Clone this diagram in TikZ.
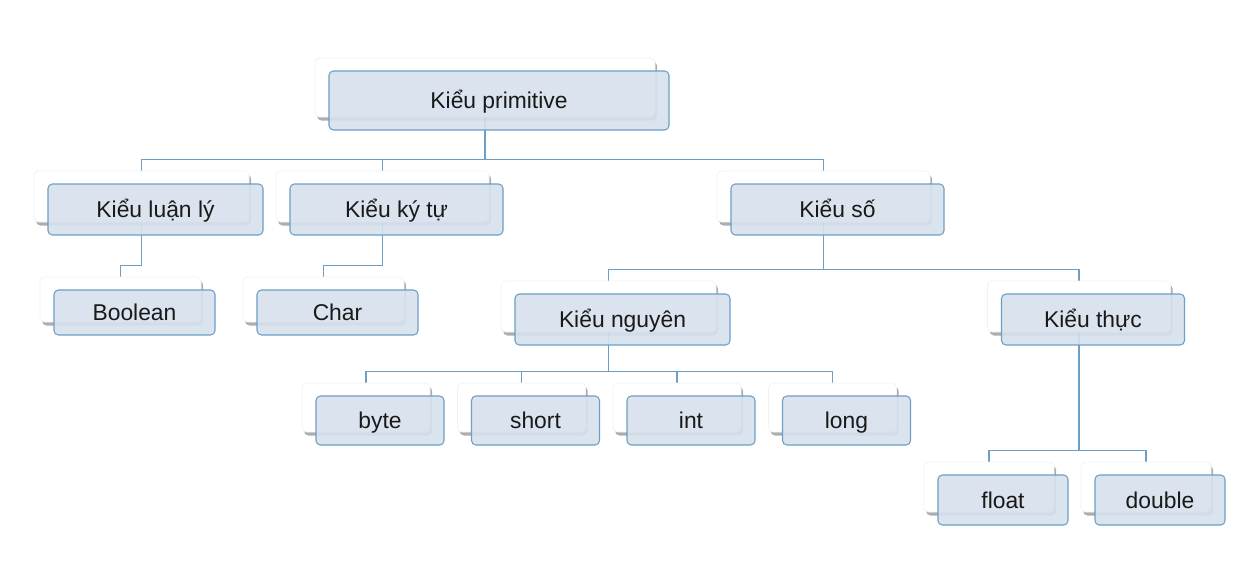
\documentclass[tikz,border=0pt]{standalone}
\usepackage{fontspec}
\setmainfont{Liberation Sans}
\usepackage{pgf,tikz}
\usetikzlibrary{shapes, positioning, shadows}
\pgfdeclarelayer{background}
\pgfsetlayers{background,main}
\definecolor{vien}{RGB}{108,158,198}
\definecolor{nenxanh}{RGB}{214,225,237}
\tikzstyle{hopnen} = [fill=white, draw=gray!10, rectangle, rounded corners=2.5pt, inner sep=0pt, drop shadow={shadow xshift=1.2pt, shadow yshift=-2pt, fill=black, opacity=0.32}]
\tikzstyle{hopkieu} = [fill=nenxanh, fill opacity=0.9, text opacity=1, draw=vien, line width=0.6pt, rectangle, rounded corners=2.5pt, inner sep=0pt, text height=11.5pt, text depth=2pt, text=black!90, font=\fontsize{13}{15}\selectfont]
\tikzstyle{noi} = [draw=vien, line width=0.6pt]
\newcommand{\kieunode}[6]{%
	\node[hopnen, minimum width=#4*0.02cm, minimum height=#5*0.02cm] (#1-w) at (#2,#3) {};
	\node[hopkieu, minimum width=#4*0.02cm, minimum height=#5*0.02cm] (#1) at ([xshift=14*0.02cm, yshift=-13*0.02cm]#1-w.center) {#6};}

\begin{document}
\begin{tikzpicture}[x=0.02cm, y=-0.02cm]
	\useasboundingbox (0,0) rectangle (1243,568);
	\kieunode{prim}{485}{87.5}{340}{59}{Kiểu primitive}
	\kieunode{luanly}{141.5}{196.5}{215}{51}{Kiểu luận lý}
	\kieunode{kytu}{382.5}{196.5}{213}{51}{Kiểu ký tự}
	\kieunode{so}{823.5}{196.5}{213}{51}{Kiểu số}
	\kieunode{boolean}{120.5}{299.5}{161}{45}{Boolean}
	\kieunode{char}{323.5}{299.5}{161}{45}{Char}
	\kieunode{nguyen}{608.5}{306.5}{215}{51}{Kiểu nguyên}
	\kieunode{thuc}{1079}{306.5}{183}{51}{Kiểu thực}
	\kieunode{byte}{366}{407.5}{128}{49}{byte}
	\kieunode{short}{521.5}{407.5}{128}{49}{short}
	\kieunode{int}{677}{407.5}{128}{49}{int}
	\kieunode{long}{832.5}{407.5}{128}{49}{long}
	\kieunode{float}{989}{487}{130}{50}{float}
	\kieunode{double}{1146}{487}{130}{50}{double}
	\begin{pgfonlayer}{background}
		\foreach \p/\c in {prim/luanly, prim/kytu, prim/so, luanly/boolean, kytu/char, so/nguyen, so/thuc, nguyen/byte, nguyen/short, nguyen/int, nguyen/long, thuc/float, thuc/double}
			\draw[noi] (\p-w.south) |- ([yshift=11*0.02cm]\c-w.north) -- (\c-w.north);
	\end{pgfonlayer}
\end{tikzpicture}
\end{document}
